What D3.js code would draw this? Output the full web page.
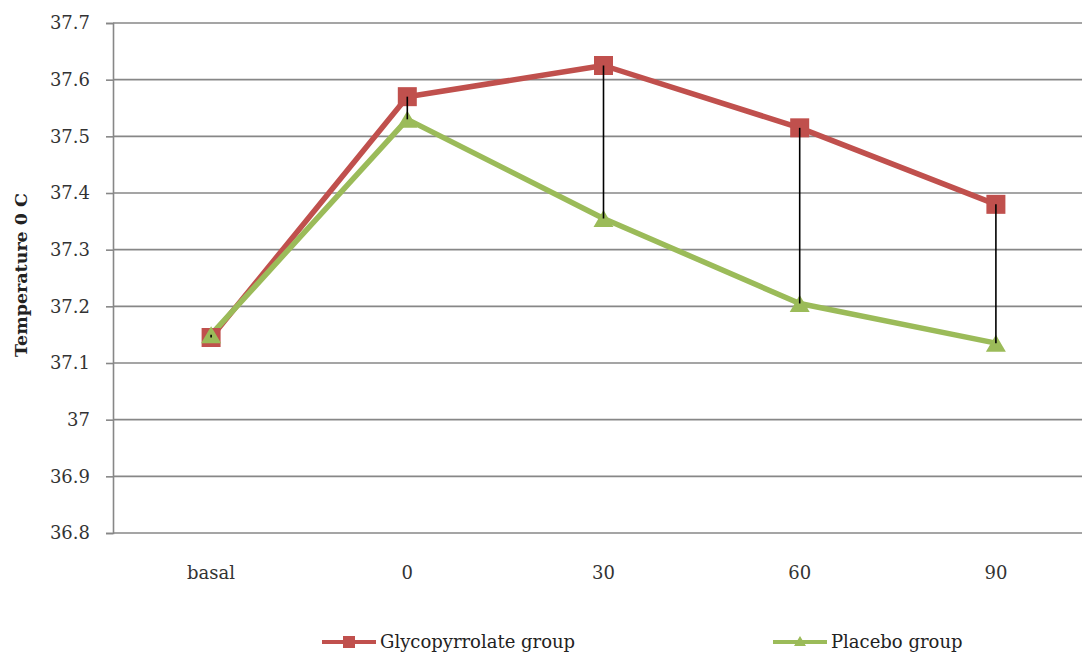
<!DOCTYPE html>
<html><head><meta charset="utf-8">
<script src="https://cdn.jsdelivr.net/npm/d3@7"></script>
<style>body{margin:0;background:#fff}svg{display:block}</style>
</head><body><svg id="c" width="1082" height="653"></svg>
<script>
const categories = ["basal", "0", "30", "60", "90"];
const glycopyrrolate = [37.145, 37.57, 37.625, 37.515, 37.38];
const placebo = [37.15, 37.53, 37.355, 37.205, 37.135];
const yTicks = [36.8, 36.9, 37, 37.1, 37.2, 37.3, 37.4, 37.5, 37.6, 37.7];
const seriesNames = ["Glycopyrrolate group", "Placebo group"];

const FONT = '"DejaVu Serif","Liberation Serif",serif';
const svg = d3.select("#c").attr("font-family", FONT);
const pLeft = 113, pTop = 23, pBottom = 533, pRight = 1094;
const x = d3.scaleBand().domain(categories).range([pLeft, pRight]);
const y = d3.scaleLinear().domain([36.8, 37.7]).range([pBottom, pTop]);
const cx = c => x(c) + x.bandwidth() / 2;

// gridlines
svg.append("g").selectAll("line").data(yTicks).join("line")
  .attr("x1", pLeft).attr("x2", 1082).attr("y1", d => y(d)).attr("y2", d => y(d))
  .attr("stroke", "#878787").attr("stroke-width", 1.6);
// y axis
const ya = svg.append("g").attr("transform", `translate(${pLeft},0)`)
  .call(d3.axisLeft(y).tickValues(yTicks).tickFormat(d => String(d)).tickSize(7).tickPadding(16));
ya.attr("font-family", FONT).attr("font-size", 18);
ya.select(".domain").attr("stroke", "#878787").attr("stroke-width", 1.6);
ya.selectAll(".tick line").attr("stroke", "#878787").attr("stroke-width", 1.6);
ya.selectAll("text").attr("fill", "#333");

// x labels
svg.append("g").selectAll("text").data(categories).join("text")
  .attr("x", d => cx(d)).attr("y", 579).attr("text-anchor", "middle").attr("font-size", 18).attr("fill", "#333").text(d => d);

// y label
svg.append("text").attr("transform", "translate(27,275) rotate(-90)").attr("text-anchor", "middle")
  .attr("font-size", 17.5).attr("font-weight", "bold").attr("fill", "#222").text("Temperature 0 C");

const red = "#C0504D", green = "#9BBB59";
const line = d3.line().x((d, i) => cx(categories[i])).y(d => y(d));

svg.append("path").datum(glycopyrrolate).attr("d", line).attr("fill", "none").attr("stroke", red).attr("stroke-width", 5.5).attr("stroke-linejoin", "round");
svg.append("path").datum(placebo).attr("d", line).attr("fill", "none").attr("stroke", green).attr("stroke-width", 5.5).attr("stroke-linejoin", "round");

// markers
svg.append("g").selectAll("rect").data(glycopyrrolate).join("rect")
  .attr("x", (d, i) => cx(categories[i]) - 9.5).attr("y", d => y(d) - 9.5)
  .attr("width", 19).attr("height", 19).attr("fill", red);
const triType = (w, h) => ({draw(ctx) { ctx.moveTo(0, -h / 2); ctx.lineTo(w / 2, h / 2); ctx.lineTo(-w / 2, h / 2); ctx.closePath(); }});
svg.append("g").selectAll("path").data(placebo).join("path")
  .attr("transform", (d, i) => `translate(${cx(categories[i])},${y(d)})`)
  .attr("d", d3.symbol().type(triType(20, 17))()).attr("fill", green);
// high-low lines
svg.append("g").selectAll("line").data(categories).join("line")
  .attr("x1", d => cx(d)).attr("x2", d => cx(d))
  .attr("y1", (d, i) => y(glycopyrrolate[i])).attr("y2", (d, i) => y(placebo[i]))
  .attr("stroke", "#000").attr("stroke-width", 1.6);

// legend
const lg = [{name: seriesNames[0], x: 322, color: red, type: "sq"}, {name: seriesNames[1], x: 773, color: green, type: "tri"}];
const L = svg.append("g");
lg.forEach(o => {
  L.append("line").attr("x1", o.x).attr("x2", o.x + 54).attr("y1", 642).attr("y2", 642).attr("stroke", o.color).attr("stroke-width", 4);
  if (o.type === "sq") L.append("rect").attr("x", o.x + 21).attr("y", 636).attr("width", 12).attr("height", 12).attr("fill", o.color);
  else L.append("path").attr("transform", `translate(${o.x + 27},${641})`).attr("d", d3.symbol().type(triType(12, 10))()).attr("fill", o.color);
  L.append("text").attr("x", o.x + 58).attr("y", 648).attr("font-size", 18).attr("fill", "#222").text(o.name);
});
</script></body></html>
